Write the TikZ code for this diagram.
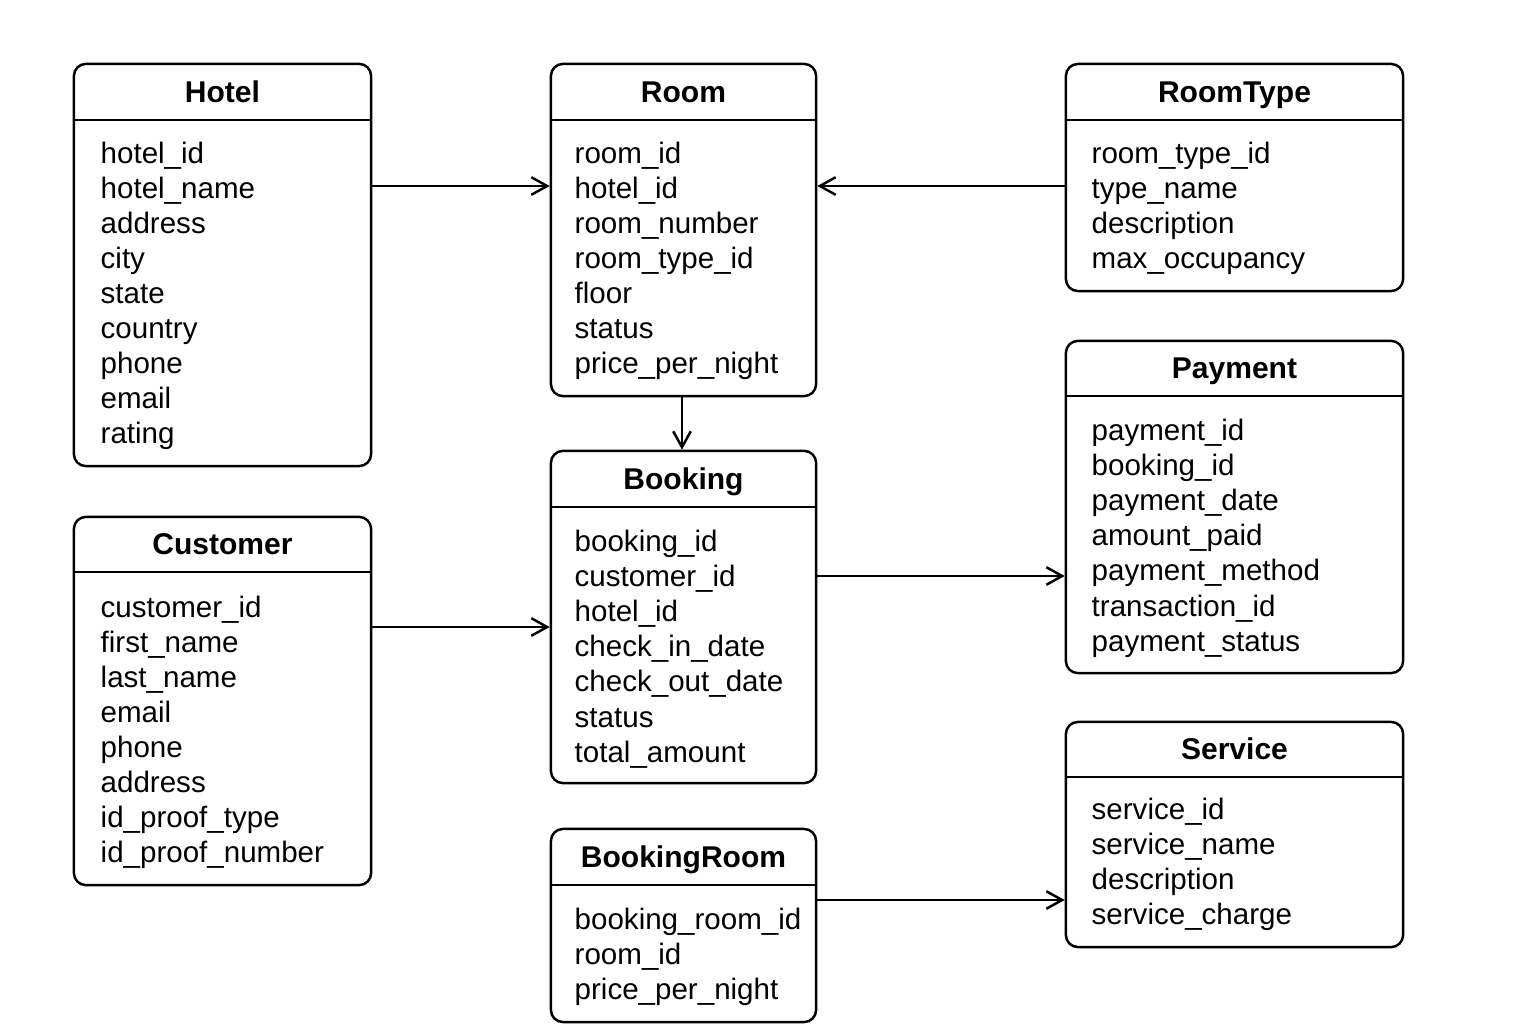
\documentclass[tikz,border=0pt]{standalone}
\usepackage{fontspec}
\setmainfont{Liberation Sans}
\usepackage{xcolor}
\usepackage{tikz}
\usetikzlibrary{arrows.meta,positioning,calc}

\tikzset{
  tbl/.style={draw,line width=0.7pt,rounded corners=3.4pt,inner sep=0pt},
  hdr/.style={inner sep=0pt,font=\fontsize{8.54}{10}\selectfont\bfseries,
    text height=0.22cm,text depth=0pt},
  attr/.style={inner sep=0pt,anchor=base west,font=\fontsize{8.4}{10}\selectfont},
  link/.style={line width=0.7pt,-{Straight Barb[length=4.5pt,width=5pt]}}
}

\begin{document}
\begin{tikzpicture}[x=0.01cm,y=-0.01cm]
                \useasboundingbox (0,0) rectangle (1536,1024);
                % Hotel
                \node[tbl,minimum width=2.97cm,minimum height=4.02cm] (hotel) at (222.5,265) {};
                \node[hdr,minimum width=2.97cm,minimum height=0.56cm,anchor=north] (hotelh) at (hotel.north) {Hotel};
                \draw[line width=0.7pt] (hotelh.south west) -- (hotelh.south east);
                \foreach \t [count=\i] in {hotel\_id,hotel\_name,address,city,state,country,phone,email,rating}
                    \node[attr] at (100,{163+35*(\i-1)}) {\t};
                % Room
                \node[tbl,minimum width=2.65cm,minimum height=3.32cm] (room) at (683.5,230) {};
                \node[hdr,minimum width=2.65cm,minimum height=0.56cm,anchor=north] (roomh) at (room.north) {Room};
                \draw[line width=0.7pt] (roomh.south west) -- (roomh.south east);
                \foreach \t [count=\i] in {room\_id,hotel\_id,room\_number,room\_type\_id,floor,status,price\_per\_night}
                    \node[attr] at (574,{163+35*(\i-1)}) {\t};
                % RoomType
                \node[tbl,minimum width=3.37cm,minimum height=2.27cm] (roomtype) at (1234.5,177.5) {};
                \node[hdr,minimum width=3.37cm,minimum height=0.56cm,anchor=north] (roomtypeh) at (roomtype.north) {RoomType};
                \draw[line width=0.7pt] (roomtypeh.south west) -- (roomtypeh.south east);
                \foreach \t [count=\i] in {room\_type\_id,type\_name,description,max\_occupancy}
                    \node[attr] at (1091,{163+35*(\i-1)}) {\t};
                % Payment
                \node[tbl,minimum width=3.37cm,minimum height=3.32cm] (payment) at (1234.5,507) {};
                \node[hdr,minimum width=3.37cm,minimum height=0.55cm,anchor=north] (paymenth) at (payment.north) {Payment};
                \draw[line width=0.7pt] (paymenth.south west) -- (paymenth.south east);
                \foreach \t [count=\i] in {payment\_id,booking\_id,payment\_date,amount\_paid,payment\_method,transaction\_id,payment\_status}
                    \node[attr] at (1091,{440+35.2*(\i-1)}) {\t};
                % Booking
                \node[tbl,minimum width=2.65cm,minimum height=3.32cm] (booking) at (683.5,617) {};
                \node[hdr,minimum width=2.65cm,minimum height=0.56cm,anchor=north] (bookingh) at (booking.north) {Booking};
                \draw[line width=0.7pt] (bookingh.south west) -- (bookingh.south east);
                \foreach \t [count=\i] in {booking\_id,customer\_id,hotel\_id,check\_in\_date,check\_out\_date,status,total\_amount}
                    \node[attr] at (574,{551+35.2*(\i-1)}) {\t};
                % Customer
                \node[tbl,minimum width=2.97cm,minimum height=3.68cm] (customer) at (222.5,701) {};
                \node[hdr,minimum width=2.97cm,minimum height=0.55cm,anchor=north] (customerh) at (customer.north) {Customer};
                \draw[line width=0.7pt] (customerh.south west) -- (customerh.south east);
                \foreach \t [count=\i] in {customer\_id,first\_name,last\_name,email,phone,address,id\_proof\_type,id\_proof\_number}
                    \node[attr] at (100,{617+35.1*(\i-1)}) {\t};
                % BookingRoom
                \node[tbl,minimum width=2.65cm,minimum height=1.93cm] (bookingroom) at (683.5,925.5) {};
                \node[hdr,minimum width=2.65cm,minimum height=0.56cm,anchor=north] (bookingroomh) at (bookingroom.north) {BookingRoom};
                \draw[line width=0.7pt] (bookingroomh.south west) -- (bookingroomh.south east);
                \foreach \t [count=\i] in {booking\_room\_id,room\_id,price\_per\_night}
                    \node[attr] at (574,{929+35*(\i-1)}) {\t};
                % Service
                \node[tbl,minimum width=3.37cm,minimum height=2.25cm] (service) at (1234.5,834.5) {};
                \node[hdr,minimum width=3.37cm,minimum height=0.55cm,anchor=north] (serviceh) at (service.north) {Service};
                \draw[line width=0.7pt] (serviceh.south west) -- (serviceh.south east);
                \foreach \t [count=\i] in {service\_id,service\_name,description,service\_charge}
                    \node[attr] at (1091,{819+35.3*(\i-1)}) {\t};
                % links
                \draw[link] (hotel.east |- 0,186) -- (room.west |- 0,186);
                \draw[link] (roomtype.west |- 0,186) -- (room.east |- 0,186);
                \draw[link] (room.south -| 682,0) -- (booking.north -| 682,0);
                \draw[link] (customer.east |- 0,627) -- (booking.west |- 0,627);
                \draw[link] (booking.east |- 0,576) -- (payment.west |- 0,576);
                \draw[link] (bookingroom.east |- 0,900) -- (service.west |- 0,900);
            \end{tikzpicture}
\end{document}
